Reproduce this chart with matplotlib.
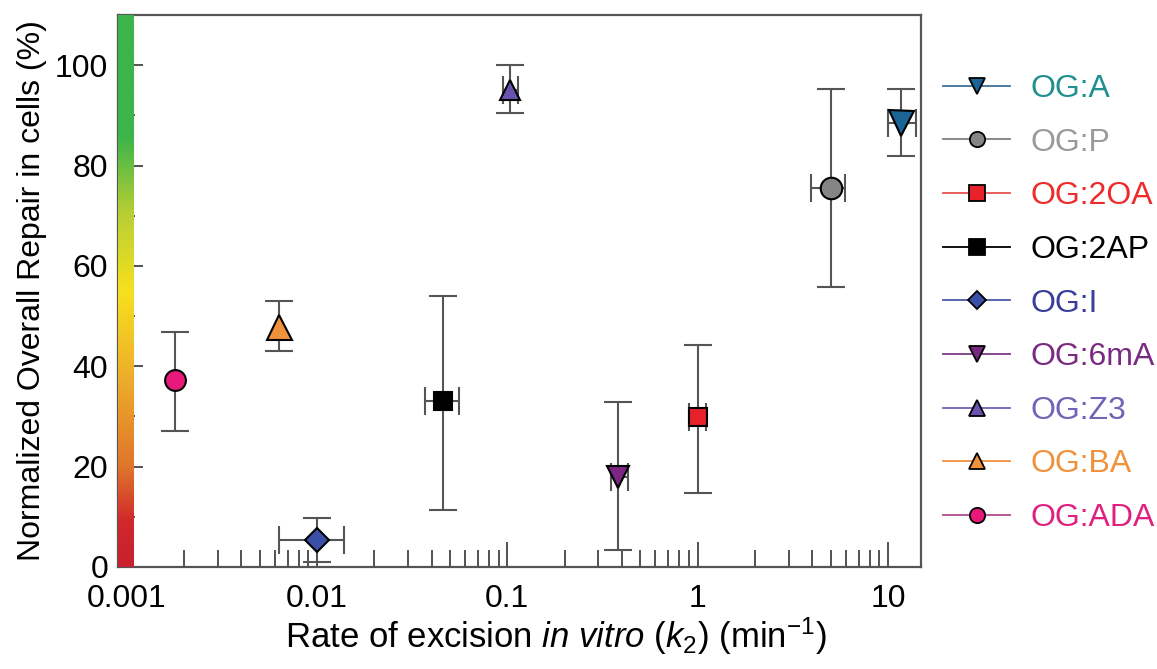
import numpy as np
import matplotlib
matplotlib.use('Agg')
import matplotlib.pyplot as plt
from matplotlib.colors import LinearSegmentedColormap
from matplotlib.lines import Line2D
from matplotlib.ticker import FixedLocator, LogLocator, NullFormatter

plt.rcParams['font.family'] = ['Liberation Sans', 'DejaVu Sans']
plt.rcParams['mathtext.fontset'] = 'custom'
plt.rcParams['mathtext.rm'] = 'Liberation Sans'
plt.rcParams['mathtext.it'] = 'Liberation Sans:italic'

# data
labels = ['OG:A', 'OG:P', 'OG:2OA', 'OG:2AP', 'OG:I', 'OG:6mA', 'OG:Z3', 'OG:BA', 'OG:ADA']
k2 = [11.7, 5.0, 1.0, 0.046, 0.010, 0.38, 0.103, 0.0063, 0.0018]
k2_lo = [10.0, 3.94, 0.90, 0.037, 0.0063, 0.35, 0.095, 0.0063, 0.0018]
k2_hi = [14.1, 5.96, 1.11, 0.056, 0.0139, 0.43, 0.114, 0.0063, 0.0018]
repair = [88.5, 75.6, 29.9, 33.1, 5.3, 18.0, 95.0, 47.9, 37.2]
repair_lo = [82.0, 55.7, 14.8, 11.4, 1.0, 3.4, 90.5, 43.1, 27.2]
repair_hi = [95.2, 95.2, 44.3, 54.0, 9.7, 32.8, 100.1, 53.0, 46.9]

markers = ['v', 'o', 's', 's', 'D', 'v', '^', '^', 'o']
msizes = [18, 15.5, 13.5, 13.5, 12, 16.5, 14, 18, 15]
fills = ['#1b6496', '#858585', '#e8202a', '#000000', '#3b4fa8',
         '#7b2682', '#6a52b0', '#f0913c', '#e8197a']
text_colors = ['#1f8f8f', '#9a9a9a', '#ee2a2a', '#000000', '#3a3d9c',
               '#7a2a82', '#7262b8', '#f0913c', '#e0207f']
line_colors = ['#3d6f9b', '#808080', '#e85050', '#000000', '#4a5aa8',
               '#7b3a85', '#7262b8', '#f0913c', '#b04a90']

fig = plt.figure(figsize=(11.57, 6.69), dpi=100)
ax = fig.add_axes([118 / 1157, 1 - 567 / 669, (921 - 118) / 1157, (567 - 15) / 669])

ax.set_xscale('log')
ax.set_xlim(0.0009, 14.9)
ax.set_ylim(0, 110)

# colour strip along the y axis
cmap = LinearSegmentedColormap.from_list('repair', [
    (0.0, '#c8202e'), (0.08, '#d0282c'), (0.18, '#e0752c'), (0.36, '#eeb42a'),
    (0.5, '#f7e01e'), (0.64, '#b8cf34'), (0.78, '#3cb44a'), (1.0, '#3cb44a')])
grad = np.linspace(1, 0, 256).reshape(-1, 1)
ax.imshow(grad, cmap=cmap, aspect='auto', extent=[0, 0.0187, 0, 1],
          transform=ax.transAxes, zorder=3)

ecol = '#555555'
for i in range(len(labels)):
    xerr = [[k2[i] - k2_lo[i]], [k2_hi[i] - k2[i]]]
    yerr = [[repair[i] - repair_lo[i]], [repair_hi[i] - repair[i]]]
    has_x = k2_hi[i] > k2_lo[i]
    ax.errorbar([k2[i]], [repair[i]], yerr=yerr, xerr=xerr if has_x else None,
                fmt='none', ecolor=ecol, elinewidth=1.5, capsize=10,
                capthick=1.5, zorder=4)
    ax.plot([k2[i]], [repair[i]], marker=markers[i], ms=msizes[i],
            mfc=fills[i], mec='black', mew=1.5, ls='none', zorder=5)

ax.xaxis.set_major_locator(FixedLocator([0.001, 0.01, 0.1, 1, 10]))
ax.set_xticklabels(['0.001', '0.01', '0.1', '1', '10'])
ax.xaxis.set_minor_locator(LogLocator(base=10, subs=np.arange(2, 10)))
ax.xaxis.set_minor_formatter(NullFormatter())
ax.set_yticks([0, 20, 40, 60, 80, 100])
ax.set_yticks([10, 30, 50, 70, 90], minor=True)

ax.tick_params(axis='both', which='major', direction='in', length=18, width=1.3,
               color='#444444', labelsize=23)
ax.tick_params(axis='x', which='major', pad=12)
ax.tick_params(axis='y', which='major', pad=7)
ax.tick_params(axis='both', which='minor', direction='in', length=12, width=1.3,
               color='#444444')
for s in ax.spines.values():
    s.set_color('#555555')
    s.set_linewidth(1.6)

ax.set_xlabel(r'Rate of excision $\it{in\ vitro}$ ($\it{k}_2$) (min$^{-1}$)',
              fontsize=25)
ax.xaxis.set_label_coords(0.545, -0.088)
ax.set_ylabel('Normalized Overall Repair in cells (%)', fontsize=23, labelpad=6)

handles = [Line2D([0], [0], color=line_colors[i], lw=1.3, marker=markers[i],
                  ms=11 if markers[i] != 'D' else 9, mfc=fills[i], mec='black',
                  mew=1.3) for i in range(len(labels))]
leg = fig.legend(handles, labels, loc='upper left', bbox_to_anchor=(943 / 1157, 1 - 74 / 669),
                 frameon=False, fontsize=23, handlelength=2.1, handletextpad=0.63,
                 labelspacing=0.74, borderpad=0, borderaxespad=0)
for t, c in zip(leg.get_texts(), text_colors):
    t.set_color(c)

fig.savefig('out.png', dpi=100)
